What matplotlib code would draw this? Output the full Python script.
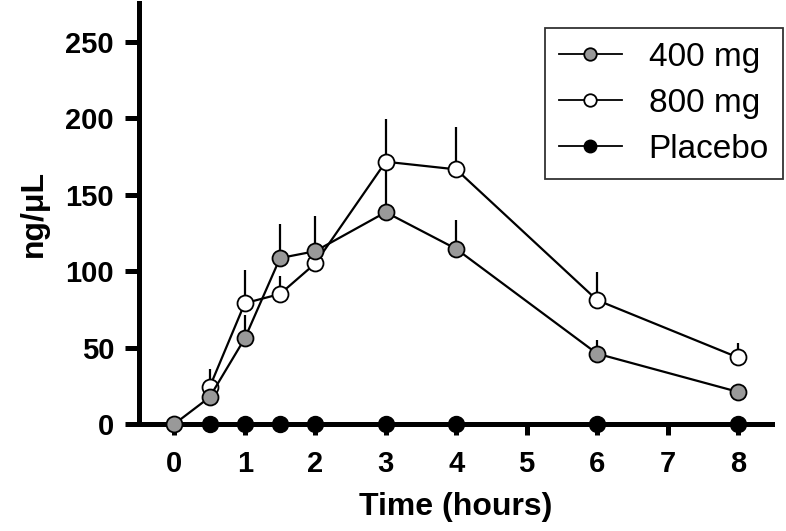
import matplotlib
matplotlib.use("Agg")
import matplotlib.pyplot as plt

plt.rcParams['font.family'] = ['Liberation Sans', 'DejaVu Sans']

# time points (hours)
t_400 = [0, 0.5, 1, 1.5, 2, 3, 4, 6, 8]
t_800 = [0.5, 1, 1.5, 2, 3, 4, 6, 8]
t_pla = [0.5, 1, 1.5, 2, 3, 4, 6, 8]

# mean concentration (ng/uL) and upper error
mg400 = [0, 17.5, 56, 108.5, 113, 138.5, 114.5, 46, 21]
mg400_err = [0, 0, 15, 22, 23, 33, 19, 9, 0]
mg800 = [24, 79, 85, 105, 171.5, 166.5, 81, 43.5]
mg800_err = [12, 22, 12, 0, 28, 28, 18.5, 9.5]
placebo = [0, 0, 0, 0, 0, 0, 0, 0]

fig = plt.figure(figsize=(7.86, 5.31), dpi=100)
ax = fig.add_axes([0.177, 0.2015, 0.805, 0.792])

ms = 11.5
# one-sided error bars underneath everything
ax.errorbar(t_800, mg800, yerr=[[0] * len(mg800_err), mg800_err], fmt='none',
            ecolor='black', elinewidth=1.6, capsize=0, zorder=1)
ax.errorbar(t_400, mg400, yerr=[[0] * len(mg400_err), mg400_err], fmt='none',
            ecolor='black', elinewidth=1.6, capsize=0, zorder=1)

ax.plot(t_pla, placebo, '-o', color='black', mfc='black', mec='black', ms=ms,
        lw=1.6, label='Placebo', zorder=3, clip_on=False)
ax.plot(t_800, mg800, '-o', color='black', mfc='white', mec='black', ms=ms,
        mew=1.3, lw=1.6, label='800 mg', zorder=4, clip_on=False)
ax.plot(t_400, mg400, '-o', color='black', mfc='#999999', mec='black', ms=ms,
        mew=1.3, lw=1.6, label='400 mg', zorder=5, clip_on=False)

ax.set_xlim(-0.5, 8.48)
ax.set_ylim(0, 275)
ax.set_xticks([0, 1, 2, 3, 4, 5, 6, 7, 8])
ax.set_yticks([0, 50, 100, 150, 200, 250])

for s in ['top', 'right']:
    ax.spines[s].set_visible(False)
for s in ['left', 'bottom']:
    ax.spines[s].set_linewidth(3.6)
    ax.spines[s].set_zorder(2)

ax.tick_params(axis='y', length=10, width=3.6, labelsize=21, pad=8)
ax.tick_params(axis='x', length=8, width=3.6, labelsize=21, pad=11)
for lab in ax.get_xticklabels() + ax.get_yticklabels():
    lab.set_fontweight('bold')

ax.set_xlabel('Time (hours)', fontsize=23, fontweight='bold', labelpad=10)
ax.set_ylabel('ng/\u03bcL', fontsize=23, fontweight='bold', labelpad=12)

handles, labels = ax.get_legend_handles_labels()
order = [2, 1, 0]
leg = ax.legend([handles[i] for i in order], [labels[i] for i in order],
                loc='upper right', bbox_to_anchor=(0.996, 0.947),
                bbox_transform=fig.transFigure, fontsize=24, frameon=True,
                fancybox=False, borderaxespad=0, handlelength=1.9,
                handletextpad=0.8, borderpad=0.42, labelspacing=0.45)
leg.get_frame().set_edgecolor('black')
leg.get_frame().set_linewidth(1.3)
for h in leg.legend_handles:
    h.set_markersize(9)
    h.set_linewidth(1.3)

fig.savefig('out.png', dpi=100)
